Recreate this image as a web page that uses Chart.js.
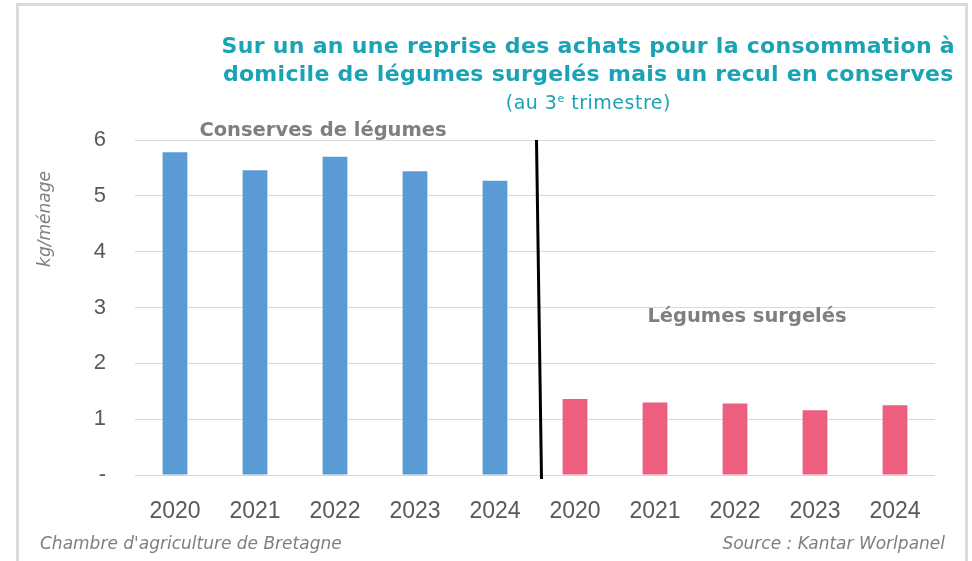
<!DOCTYPE html>
<html>
<head>
<meta charset="utf-8">
<script src="https://cdn.jsdelivr.net/npm/chart.js@4/dist/chart.umd.min.js"></script>
<style>
  html, body { margin: 0; padding: 0; background: #fff; }
  #wrap { position: relative; width: 972px; height: 561px; overflow: hidden; }
  #frame { position: absolute; left: 16px; top: 3px; width: 946px; height: 620px;
           border: 3px solid #dadada; box-sizing: content-box; }
  #chart { position: absolute; left: 0; top: 0; }
  #title { position: absolute; right: 17px; top: 32px; text-align: center; color: #19a3b5;
           font-family: "DejaVu Sans", sans-serif; }
  #title .l { font-weight: bold; font-size: 22px; letter-spacing: 0.3px; line-height: 28px; white-space: nowrap; }
  #title .s { font-size: 19px; letter-spacing: 0.5px; line-height: 20px; margin-top: 1px; }
  #title sup { font-size: 11px; vertical-align: 7px; }
</style>
</head>
<body>
<div id="wrap">
  <div id="frame"></div>
  <canvas id="chart" width="972" height="561"></canvas>
  <div id="title">
    <div class="l">Sur un an une reprise des achats pour la consommation à</div>
    <div class="l">domicile de légumes surgelés mais un recul en conserves</div>
    <div class="s">(au 3<sup>e</sup> trimestre)</div>
  </div>
</div>
<script>
const years = ['2020', '2021', '2022', '2023', '2024'];
const categories = [...years, ...years];
const conserves = [5.78, 5.46, 5.70, 5.44, 5.27];
const surgeles = [1.36, 1.30, 1.28, 1.16, 1.25];
const yTicks = [0, 1, 2, 3, 4, 5, 6];

const gap = years.map(() => null);

// separator line + group labels + axis title + footer
const extras = {
  id: 'extras',
  afterDraw(chart) {
    const { ctx, chartArea, scales: { x, y } } = chart;
    const mid = (x.getPixelForValue(4) + x.getPixelForValue(5)) / 2;
    ctx.save();
    ctx.strokeStyle = '#000';
    ctx.lineWidth = 3;
    ctx.beginPath();
    ctx.moveTo(mid + 1.5, y.getPixelForValue(6));
    ctx.lineTo(mid + 6.5, chartArea.bottom + 4);
    ctx.stroke();

    ctx.fillStyle = '#7f7f7f';
    ctx.font = 'bold 19.5px "DejaVu Sans"';
    ctx.textAlign = 'center';
    ctx.textBaseline = 'middle';
    ctx.fillText('Conserves de légumes', x.getPixelForValue(1.85), y.getPixelForValue(6) - 9);
    ctx.fillText('Légumes surgelés', x.getPixelForValue(7.15), y.getPixelForValue(2.83));

    ctx.font = 'italic 17px "DejaVu Sans"';
    ctx.fillStyle = '#7f7f7f';
    ctx.save();
    ctx.translate(46, 219);
    ctx.rotate(-Math.PI / 2);
    ctx.fillText('kg/ménage', 0, 0);
    ctx.restore();

    ctx.textAlign = 'left';
    ctx.fillText("Chambre d'agriculture de Bretagne", 40, 545);
    ctx.textAlign = 'right';
    ctx.fillText('Source : Kantar Worlpanel', 945, 545);
    ctx.restore();
  }
};

new Chart(document.getElementById('chart'), {
  type: 'bar',
  data: {
    labels: categories,
    datasets: [
      { label: 'Conserves de légumes', data: [...conserves, ...gap], backgroundColor: '#5b9bd5' },
      { label: 'Légumes surgelés', data: [...gap, ...surgeles], backgroundColor: '#ec5f7e' }
    ]
  },
  options: {
    responsive: false,
    animation: false,
    events: [],
    barPercentage: 1,
    categoryPercentage: 0.31,
    layout: { padding: { left: 0, top: 140, right: 37, bottom: 0 } },
    plugins: { legend: { display: false }, tooltip: { enabled: false } },
    scales: {
      x: {
        stacked: true,
        grid: { display: false },
        border: { display: false },
        ticks: { color: '#595959', padding: 15, font: { family: '"Liberation Sans"', size: 23 } },
        afterFit(s) { s.height = 86; }
      },
      y: {
        stacked: true,
        min: 0,
        max: 6,
        afterBuildTicks(s) { s.ticks = yTicks.map(v => ({ value: v })); },
        grid: { color: '#d9d9d9', lineWidth: 1, drawTicks: false },
        border: { display: false },
        ticks: {
          color: '#595959',
          padding: 29,
          font: { family: '"Liberation Sans"', size: 22 },
          callback: v => v === 0 ? '-' : v
        },
        afterFit(s) { s.width = 135; }
      }
    }
  },
  plugins: [extras]
});
</script>
</body>
</html>
